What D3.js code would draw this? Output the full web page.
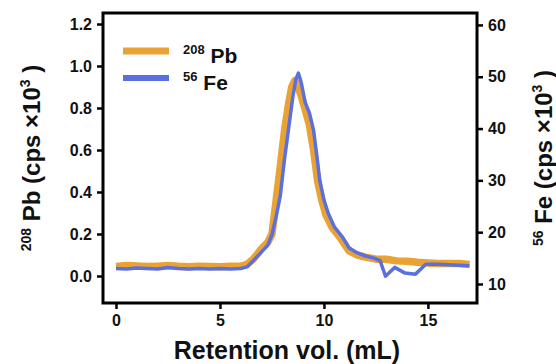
<!DOCTYPE html>
<html>
<head>
<meta charset="utf-8">
<script src="https://cdn.jsdelivr.net/npm/d3@7"></script>
<style>
    body { margin: 0; background: #fff; }
    text { font-family: "Liberation Sans", Arial, sans-serif; font-weight: bold; fill: #111; }
</style>
</head>
<body>
<div id="chart"></div>
<script>
// retention volume (mL) and 208Pb signal (cps x 10^3, left axis)
const pbVolume = [0, 0.5, 1.0, 1.5, 2.0, 2.5, 3.0, 3.5, 4.0, 4.5, 5.0, 5.5, 6.0, 6.3, 6.6, 7.0, 7.3, 7.5, 7.7, 7.9, 8.1, 8.3, 8.45, 8.6, 8.75, 8.9, 9.1, 9.3, 9.5, 9.7, 9.9, 10.1, 10.4, 10.8, 11.2, 11.6, 12.0, 12.5, 13.0, 13.5, 14.0, 14.5, 15.0, 15.5, 16.0, 16.5, 17.0];
const pbSignal = [0.045, 0.05, 0.048, 0.045, 0.047, 0.05, 0.046, 0.044, 0.047, 0.045, 0.044, 0.046, 0.047, 0.055, 0.08, 0.13, 0.16, 0.2, 0.36, 0.52, 0.69, 0.82, 0.9, 0.93, 0.9, 0.86, 0.79, 0.72, 0.6, 0.45, 0.36, 0.29, 0.23, 0.18, 0.12, 0.1, 0.09, 0.08, 0.08, 0.072, 0.07, 0.065, 0.062, 0.06, 0.06, 0.06, 0.055];

// retention volume (mL) and 56Fe signal (cps x 10^3, right axis)
const feVolume = [0, 0.5, 1.0, 1.5, 2.0, 2.5, 3.0, 3.5, 4.0, 4.5, 5.0, 5.5, 6.0, 6.3, 6.6, 7.0, 7.3, 7.5, 7.7, 7.9, 8.1, 8.3, 8.5, 8.65, 8.77, 8.9, 9.1, 9.3, 9.5, 9.65, 9.8, 10.0, 10.2, 10.5, 10.9, 11.2, 11.6, 12.0, 12.4, 12.7, 12.96, 13.4, 13.9, 14.4, 14.9, 15.5, 16.0, 16.5, 17.0];
const feSignal = [13.0, 12.9, 13.1, 13.0, 12.9, 13.2, 13.0, 12.9, 13.0, 12.9, 13.0, 12.9, 13.0, 13.3, 14.5, 16.2, 17.5, 19.5, 23.0, 27.0, 34.0, 40.0, 46.0, 49.5, 50.7, 49.0, 45.0, 43.0, 39.7, 35.0, 30.0, 26.2, 23.7, 21.0, 19.0, 17.0, 16.0, 15.4, 15.0, 14.5, 11.5, 13.2, 12.1, 11.9, 13.8, 13.8, 13.7, 13.6, 13.5];

const xTicks = [0, 5, 10, 15];
const leftTicks = [0.0, 0.2, 0.4, 0.6, 0.8, 1.0, 1.2];
const rightTicks = [10, 20, 30, 40, 50, 60];

const pbColor = '#E9A334';
const feColor = '#5A70E0';

function renderChart() {
    const width = 556, height = 364;
    const margin = {top: 13, right: 79, bottom: 61, left: 103};
    const innerW = width - margin.left - margin.right;
    const innerH = height - margin.top - margin.bottom;

    const svg = d3.select('#chart')
        .append('svg')
        .attr('width', width)
        .attr('height', height);

    const g = svg.append('g')
        .attr('transform', `translate(${margin.left},${margin.top})`);

    const x = d3.scaleLinear().domain([-0.625, 17.36]).range([0, innerW]);
    const yL = d3.scaleLinear().domain([-0.1286, 1.2524]).range([innerH, 0]);
    const yR = d3.scaleLinear().domain([6.33, 62.3]).range([innerH, 0]);

    // data lines
    const pbLine = d3.line()
        .x((d, i) => x(pbVolume[i]))
        .y(d => yL(d));
    const feLine = d3.line()
        .x((d, i) => x(feVolume[i]))
        .y(d => yR(d));

    g.append('path')
        .datum(pbSignal)
        .attr('d', pbLine)
        .attr('fill', 'none')
        .attr('stroke', pbColor)
        .attr('stroke-width', 7.5)
        .attr('stroke-linejoin', 'round');

    g.append('path')
        .datum(feSignal)
        .attr('d', feLine)
        .attr('fill', 'none')
        .attr('stroke', feColor)
        .attr('stroke-width', 3.5)
        .attr('stroke-linejoin', 'round');

    // axes
    const styleAxis = sel => {
        sel.selectAll('.domain').remove();
        sel.selectAll('line').attr('stroke', '#000').attr('stroke-width', 2.5);
        sel.selectAll('text').style('font-size', '16px').attr('fill', '#111');
    };

    g.append('g')
        .attr('transform', `translate(0,${innerH})`)
        .call(d3.axisBottom(x).tickValues(xTicks).tickSize(6).tickPadding(6).tickFormat(d3.format('d')))
        .call(styleAxis);

    g.append('g')
        .call(d3.axisLeft(yL).tickValues(leftTicks).tickSize(6).tickPadding(5).tickFormat(d3.format('.1f')))
        .call(styleAxis);

    g.append('g')
        .attr('transform', `translate(${innerW},0)`)
        .call(d3.axisRight(yR).tickValues(rightTicks).tickSize(6).tickPadding(5).tickFormat(d3.format('d')))
        .call(styleAxis);

    // frame
    g.append('rect')
        .attr('width', innerW)
        .attr('height', innerH)
        .attr('fill', 'none')
        .attr('stroke', '#000')
        .attr('stroke-width', 3);

    // legend
    const legend = g.append('g').attr('transform', 'translate(20,38)');
    const items = [
        {iso: '208', el: 'Pb', color: pbColor, w: 7},
        {iso: '56', el: 'Fe', color: feColor, w: 6}
    ];
    items.forEach((d, i) => {
        const row = legend.append('g').attr('transform', `translate(0,${i * 27})`);
        row.append('line')
            .attr('x1', 0).attr('x2', 46)
            .attr('stroke', d.color)
            .attr('stroke-width', d.w);
        const t = row.append('text').attr('x', 60).attr('y', 12);
        t.append('tspan').text(d.iso).style('font-size', '13px').attr('dy', -9);
        t.append('tspan').text(' ' + d.el).style('font-size', '21px').attr('dy', 9);
    });

    // axis titles
    svg.append('text')
        .attr('x', margin.left + innerW / 2 - 3)
        .attr('y', 359)
        .attr('text-anchor', 'middle')
        .style('font-size', '25px')
        .text('Retention vol. (mL)');

    const yTitle = (xPos, iso, el) => {
        const t = svg.append('text')
            .attr('transform', `translate(${xPos},158) rotate(-90)`)
            .attr('text-anchor', 'middle');
        t.append('tspan').text(iso).style('font-size', '14px').attr('dy', -9);
        t.append('tspan').text(' ' + el + ' (cps  \u00D710').style('font-size', '24px').attr('dy', 9);
        t.append('tspan').text('3').style('font-size', '14px').attr('dy', -10);
        t.append('tspan').text(' )').style('font-size', '24px').attr('dy', 10);
    };
    yTitle(40, '208', 'Pb');
    yTitle(552, '56', 'Fe');
}

document.addEventListener('DOMContentLoaded', renderChart);
</script>
</body>
</html>
